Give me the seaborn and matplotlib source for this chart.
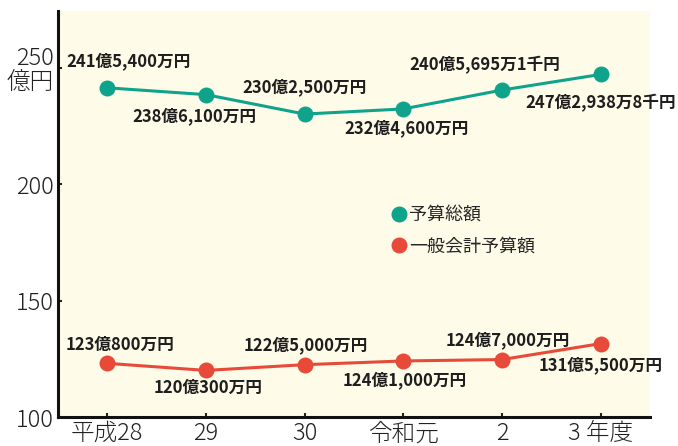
import seaborn as sns
import pandas as pd
import matplotlib.pyplot as plt
from matplotlib.lines import Line2D

# data
years = ["平成28", "29", "30", "令和元", "2", "3 年度"]
total_budget = [241.54, 238.61, 230.25, 232.46, 240.5695, 247.2938]
general_budget = [123.08, 120.03, 122.50, 124.10, 124.70, 131.55]
total_labels = ["241億5,400万円", "238億6,100万円", "230億2,500万円",
                "232億4,600万円", "240億5,695万1千円", "247億2,938万8千円"]
general_labels = ["123億800万円", "120億300万円", "122億5,000万円",
                  "124億1,000万円", "124億7,000万円", "131億5,500万円"]
series_names = ["予算総額", "一般会計予算額"]
y_ticks = [100, 150, 200, 250]
y_ticklabels = ["100", "150", "200", "250\n億円"]

TEAL = "#10a38b"
RED = "#e84a3a"

sns.set_style("ticks")
plt.rcParams['font.family'] = ['Noto Sans CJK JP', 'DejaVu Sans']

df = pd.DataFrame({
    "x": list(range(len(years))) * 2,
    "value": total_budget + general_budget,
    "series": [series_names[0]] * len(years) + [series_names[1]] * len(years),
})

fig = plt.figure(figsize=(6.78, 4.46), dpi=100)
ax = fig.add_axes([0.0855, 0.065, 0.873, 0.91])
ax.set_facecolor("#fefce8")

sns.lineplot(data=df, x="x", y="value", hue="series", palette=[TEAL, RED],
             marker="o", markersize=11.5, markeredgewidth=0, linewidth=2.2,
             legend=False, ax=ax)

# value labels: (dx, dy) offsets in points
total_off = [(15, 19), (-8, -15.5), (0, 19), (2, -14), (-12, 18), (0, -21)]
general_off = [(9, 13), (1.5, -12.7), (1, 14), (1, -14), (4, 14), (0, -15.4)]
for i in range(len(years)):
    dx, dy = total_off[i]
    ax.annotate(total_labels[i], (i, total_budget[i]), xytext=(dx, dy),
                textcoords="offset points", ha="center", va="center",
                fontsize=12, fontweight="bold", color="#1e1e1e")
    dx, dy = general_off[i]
    ax.annotate(general_labels[i], (i, general_budget[i]), xytext=(dx, dy),
                textcoords="offset points", ha="center", va="center",
                fontsize=12, fontweight="bold", color="#1e1e1e")

ax.set_xlim(-0.5, 5.5)
ax.set_ylim(100, 274.5)
ax.set_xticks(range(len(years)))
ax.set_xticklabels(years)
ax.set_yticks(y_ticks)
ax.set_yticklabels(y_ticklabels, linespacing=0.95)
ax.tick_params(axis="both", direction="in", length=3, width=1.5,
               labelsize=17, colors="#222222", pad=3)
for lbl in ax.get_xticklabels() + ax.get_yticklabels():
    lbl.set_fontweight("light")
ax.set_xlabel("")
ax.set_ylabel("")
for side in ["top", "right"]:
    ax.spines[side].set_visible(False)
for side in ["left", "bottom"]:
    ax.spines[side].set_linewidth(2.2)
    ax.spines[side].set_color("#111111")

handles = [Line2D([], [], marker="o", color=c, linestyle="none", markersize=10.5)
           for c in [TEAL, RED]]
ax.legend(handles, series_names, loc="upper left", bbox_to_anchor=(0.533, 0.56),
          frameon=False, fontsize=13, handletextpad=0.05, labelspacing=0.75,
          handlelength=1.0)

fig.savefig("out.png", dpi=100)
